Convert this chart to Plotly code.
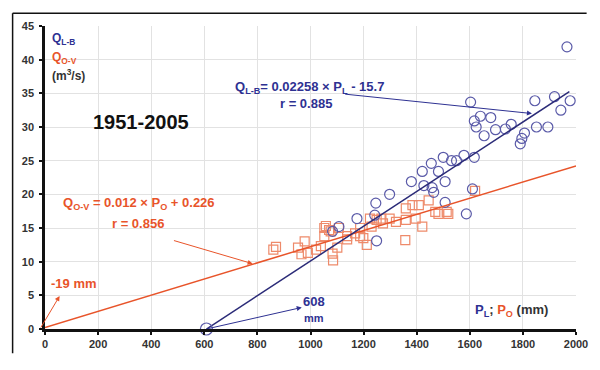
import plotly.graph_objects as go

# ---- data ----
# Q_L-B (blue circles) vs P_L
pl_x = [1966, 1603, 1845, 1919, 1978, 1943, 1640, 1679, 1617, 1624, 1697, 1734, 1756, 1806,
        1851, 1894, 1654, 1796, 1790, 1578, 1617, 1500, 1531, 1550, 1455, 1421, 1482, 1380,
        1507, 1458, 1464, 1298, 1246, 1507, 1610, 1587, 1175, 1242, 1249, 1107, 1083, 1427]
qlb_y = [41.9, 33.7, 33.9, 34.5, 33.9, 32.5, 31.6, 31.4, 30.9, 30.0, 29.6, 29.7, 30.4, 29.1,
         30.0, 30.0, 28.7, 28.3, 27.5, 25.8, 25.5, 25.5, 25.0, 25.0, 24.6, 23.4, 23.4, 21.9,
         21.9, 21.0, 20.3, 20.0, 18.7, 18.8, 20.8, 17.1, 16.4, 16.9, 13.1, 15.2, 14.5, 21.3]

# Q_O-V (orange squares) vs P_O
po_x = [860, 870, 953, 966, 978, 990, 1021, 1039, 1052, 1052, 1058, 1070, 1076, 1083, 1085,
        1101, 1107, 1138, 1138, 1168, 1187, 1187, 1199, 1212, 1224, 1230, 1249, 1267, 1273,
        1298, 1322, 1359, 1359, 1357, 1384, 1396, 1408, 1421, 1445, 1470, 1482, 1513, 1519, 1620]
qov_y = [11.8, 12.2, 12.1, 11.1, 13.0, 11.3, 11.8, 12.3, 13.8, 15.0, 15.3, 14.7, 14.5, 11.2, 10.2,
         12.1, 15.0, 13.3, 13.8, 14.2, 15.0, 13.8, 13.5, 12.5, 16.4, 15.2, 16.2, 16.4, 15.7,
         16.4, 15.9, 17.9, 16.2, 13.2, 18.4, 16.4, 18.4, 15.2, 19.1, 17.4, 17.1, 17.4, 17.1, 20.5]

# fitted lines (slope, intercept, x-extent) as drawn
lb_slope, lb_inter, lb_xrange = 0.0258, -15.7, [608, 1975]
ov_slope, ov_inter, ov_xrange = 0.012, 0.226, [0, 2000]

# x-intercepts marked on the chart
icpt_lb = 608
icpt_ov = -19

x_ticks = [0, 200, 400, 600, 800, 1000, 1200, 1400, 1600, 1800, 2000]
y_ticks = [0, 5, 10, 15, 20, 25, 30, 35, 40, 45]

BLUE = "#2E3192"
BLUE_M = "#5A5AA8"
ORANGE = "#E8542A"
ORANGE_M = "#EE8A6A"
FONT = "Arial, Liberation Sans, sans-serif"

fig = go.Figure()

fig.add_trace(go.Scatter(x=po_x, y=qov_y, mode="markers",
                         marker=dict(symbol="square-open", size=9, color=ORANGE_M, line=dict(width=1.2)),
                         showlegend=False))
fig.add_trace(go.Scatter(x=pl_x, y=qlb_y, mode="markers",
                         marker=dict(symbol="circle-open", size=10, color=BLUE_M, line=dict(width=1.2)),
                         showlegend=False))

fig.add_trace(go.Scatter(x=ov_xrange, y=[ov_slope * v + ov_inter for v in ov_xrange], mode="lines",
                         line=dict(color=ORANGE, width=1.5), showlegend=False, cliponaxis=False))
fig.add_trace(go.Scatter(x=lb_xrange, y=[lb_slope * v + lb_inter for v in lb_xrange], mode="lines",
                         line=dict(color="#2B2B78", width=1.5), showlegend=False, cliponaxis=False))

fig.add_trace(go.Scatter(x=[icpt_lb], y=[0], mode="markers",
                         marker=dict(symbol="circle-open", size=12, color=BLUE_M, line=dict(width=1.2)),
                         showlegend=False, cliponaxis=False))
fig.add_trace(go.Scatter(x=[icpt_ov], y=[0], mode="markers",
                         marker=dict(symbol="circle-open", size=13, color=ORANGE_M, line=dict(width=1.2)),
                         showlegend=False, cliponaxis=False))

ann = []
def txt(x, y, t, color, size=10, xanchor="center"):
    ann.append(dict(x=x, y=y, xref="x", yref="y", text=t, showarrow=False, xanchor=xanchor,
                    yanchor="middle", font=dict(family=FONT, size=size, color=color, weight="bold")))

def arrow(x, y, ax, ay, color):
    ann.append(dict(x=x, y=y, ax=ax, ay=ay, xref="x", yref="y", axref="x", ayref="y", text="",
                    showarrow=True, arrowhead=2, arrowsize=1, arrowwidth=1, arrowcolor=color))

txt(18, 43.0, "Q<sub>L-B</sub>", BLUE, 12, "left")
txt(18, 40.3, "Q<sub>O-V</sub>", ORANGE, 12, "left")
txt(18, 37.7, "(m<sup>3</sup>/s)", "#333333", 12, "left")
txt(362, 30.7, "1951-2005", "#111111", 20)

txt(996, 35.8, "Q<sub>L-B</sub>= 0.02258 × P<sub>L</sub> - 15.7", BLUE, 13)
txt(982, 33.5, "r = 0.885", BLUE, 13)
arrow(1834, 32.0, 1125, 34.9, BLUE)

txt(354, 18.6, "Q<sub>O-V</sub> = 0.012 × P<sub>O</sub> + 0.226", ORANGE, 13)
txt(351, 15.7, "r = 0.856", ORANGE, 13)
arrow(782, 9.7, 480, 13.2, ORANGE)

txt(111, 6.7, "-19 mm", ORANGE, 13)
arrow(55, 4.9, icpt_ov, 0, ORANGE)

txt(1015, 4.1, "608", BLUE, 13)
txt(1015, 1.7, "mm", BLUE, 11)
arrow(967, 3.2, icpt_lb, 0, BLUE)

ann.append(dict(x=1613, y=2.75, xref="x", yref="y", xanchor="left", yanchor="middle", showarrow=False,
                text="<span style='color:%s'>P<sub>L</sub></span>; <span style='color:%s'>P<sub>O</sub></span> (mm)" % (BLUE, ORANGE),
                font=dict(family=FONT, size=13, color="#333333", weight="bold")))

# the page body has an 8px margin: the figure is sized so the page does not overflow the window
fig.update_layout(
    width=592, height=354,
    margin=dict(l=37, r=13, t=17, b=27),
    paper_bgcolor="white", plot_bgcolor="white",
    annotations=ann,
    shapes=[
        # outer frame: left and top edges (right/bottom lie outside the picture)
        dict(type="line", xref="paper", yref="paper", x0=-0.061, x1=-0.061, y0=-0.08, y1=1.042,
             line=dict(color="#111111", width=1.5), layer="above"),
        dict(type="line", xref="paper", yref="paper", x0=-0.061, x1=1.02, y0=1.042, y1=1.042,
             line=dict(color="#111111", width=1.5), layer="above"),
    ],
    xaxis=dict(range=[0, 2000], tickvals=x_ticks, showgrid=True, gridcolor="#e2e2e2", gridwidth=1,
               showline=True, linecolor="#111111", linewidth=2.5, ticks="outside", ticklen=3,
               tickwidth=2, tickcolor="#111111", zeroline=False,
               tickfont=dict(family=FONT, size=11, color="#333333", weight="bold")),
    yaxis=dict(range=[0, 45], tickvals=y_ticks, showgrid=True, gridcolor="#e2e2e2", gridwidth=1,
               showline=True, linecolor="#111111", linewidth=2.5, ticks="outside", ticklen=3,
               tickwidth=2, tickcolor="#111111", zeroline=False, ticklabelstandoff=3,
               tickfont=dict(family=FONT, size=11, color="#333333", weight="bold")),
)

fig.write_html("out.html")
